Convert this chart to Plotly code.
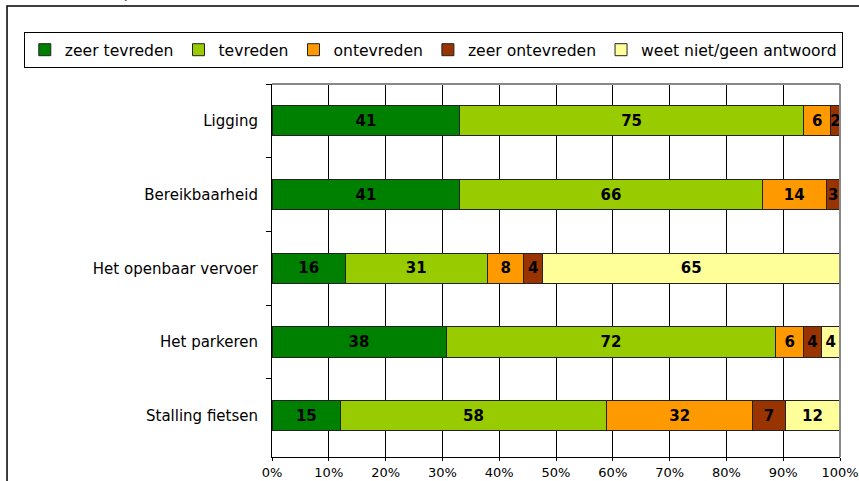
import plotly.graph_objects as go

# Tevredenheid per aspect (aantallen respondenten)
aspecten = ["Ligging", "Bereikbaarheid", "Het openbaar vervoer", "Het parkeren", "Stalling fietsen"]
categorieen = ["zeer tevreden", "tevreden", "ontevreden", "zeer ontevreden", "weet niet/geen antwoord"]

zeer_tevreden = [41, 41, 16, 38, 15]
tevreden = [75, 66, 31, 72, 58]
ontevreden = [6, 14, 8, 6, 32]
zeer_ontevreden = [2, 3, 4, 4, 7]
weet_niet = [0, 0, 65, 4, 12]

kleuren = ["#008000", "#99CC00", "#FF9900", "#993300", "#FFFF99"]
reeksen = [zeer_tevreden, tevreden, ontevreden, zeer_ontevreden, weet_niet]

FONT = "DejaVu Sans, Liberation Sans, sans-serif"

fig = go.Figure()
for naam, waarden, kleur in zip(categorieen, reeksen, kleuren):
    fig.add_trace(go.Bar(
        name=naam,
        y=aspecten,
        x=waarden,
        orientation="h",
        marker=dict(color=kleur, line=dict(color="#222222", width=1)),
        text=[str(v) if v else "" for v in waarden],
        textposition="inside",
        insidetextanchor="middle",
        textangle=0,
        textfont=dict(family=FONT, size=15, color="black", weight="bold"),
        cliponaxis=False,
        hoverinfo="skip",
    ))

# plotgebied: x 272..840, y 84..457 (pixels)
fig.update_layout(
    barmode="stack",
    barnorm="percent",
    bargap=0.59,
    width=859,
    height=481,
    margin=dict(l=272, r=19, t=84, b=24, autoexpand=False),
    plot_bgcolor="white",
    paper_bgcolor="white",
    font=dict(family=FONT, size=15, color="black"),
    uniformtext=dict(minsize=15, mode="show"),
    legend=dict(
        orientation="h",
        x=-0.437, xanchor="left",
        y=1.091, yanchor="middle",
        bordercolor="black",
        borderwidth=1,
        font=dict(family=FONT, size=15.6),
        traceorder="normal",
        itemclick=False,
    ),
    showlegend=True,
)

fig.update_xaxes(
    range=[0, 100],
    dtick=10,
    ticksuffix="%",
    showgrid=True,
    gridcolor="black",
    gridwidth=1,
    showline=True,
    linecolor="black",
    linewidth=1,
    ticks="outside",
    ticklen=3,
    tickcolor="black",
    tickfont=dict(size=13),
    zeroline=False,
    fixedrange=True,
)
fig.update_yaxes(
    type="category",
    range=[4.558, -0.5],
    showgrid=False,
    showline=True,
    linecolor="black",
    linewidth=1,
    ticks="outside",
    tickson="boundaries",
    ticklen=5,
    tickcolor="black",
    ticklabelstandoff=10,
    fixedrange=True,
)

# grijze rand boven en rechts van het plotgebied
fig.add_shape(type="line", xref="paper", yref="paper", x0=0, x1=1, y0=1, y1=1,
              line=dict(color="#888888", width=2))
fig.add_shape(type="line", xref="paper", yref="paper", x0=1, x1=1, y0=0, y1=1,
              line=dict(color="#888888", width=2))

# buitenkader van de grafiek (x=7, y=10 px)
fig.add_shape(type="rect", xref="paper", yref="paper",
              x0=-0.4665, x1=1.2, y0=-0.2, y1=1.209,
              line=dict(color="black", width=1.5), layer="below")

# afgesneden titel bovenaan
fig.add_annotation(text="de operatie", xref="paper", yref="paper",
                   x=-0.24, y=1.2172, xanchor="center", yanchor="bottom",
                   showarrow=False, font=dict(family=FONT, size=18, color="#555555"))

# pagina zonder standaard body-marge, zodat de figuur precies in het venster valt
fig.write_html("out.html", config={"displayModeBar": False},
               post_script="document.body.style.margin='0';")
